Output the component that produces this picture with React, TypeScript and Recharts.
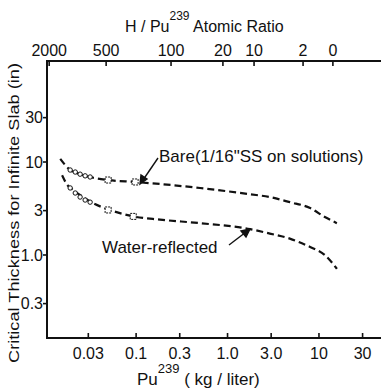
import React from 'react'
import { ComposedChart, Line, Scatter, XAxis, YAxis } from 'recharts'

// Pu239 concentration (kg/liter) vs critical slab thickness (in)
const bareConc = [0.0148, 0.019, 0.0244, 0.0314, 0.0494, 0.0975, 0.183, 0.5, 1.76, 2.9, 4.8, 8.0, 11.6, 15.7]
const bareThick = [10.8, 8.2, 7.4, 6.9, 6.4, 6.1, 5.8, 5.25, 4.5, 4.2, 3.7, 3.2, 2.56, 2.2]

const waterConc = [0.0155, 0.0176, 0.0205, 0.0263, 0.0339, 0.0494, 0.093, 0.183, 0.5, 1.76, 2.9, 4.8, 8.0, 11.6, 15.7]
const waterThick = [7.2, 5.7, 5.0, 4.2, 3.6, 3.1, 2.6, 2.4, 2.2, 1.9, 1.7, 1.5, 1.22, 1.0, 0.71]

// measured points drawn on the curves
const bareDotConc = [0.019, 0.0216, 0.0244, 0.0277, 0.0314]
const bareDotThick = [8.2, 7.8, 7.4, 7.1, 6.9]
const bareBoxConc = [0.0494, 0.0975]
const bareBoxThick = [6.4, 6.1]
const waterDotConc = [0.019, 0.0216, 0.0244, 0.0277, 0.0314]
const waterDotThick = [5.26, 4.64, 4.2, 3.9, 3.7]
const waterBoxConc = [0.0494, 0.093]
const waterBoxThick = [3.05, 2.6]

const xTicks = [0.03, 0.1, 0.3, 1, 3, 10, 30]
const xTickLabels = ['0.03', '0.1', '0.3', '1.0', '3.0', '10', '30']
const yTicks = [0.3, 1, 3, 10, 30]
const yTickLabels = ['0.3', '1.0', '3', '10', '30']
// H/Pu239 atomic ratio scale, placed at the matching concentration
const topTickConc = [0.0112, 0.047, 0.241, 0.89, 1.95, 6.7, 14.2]
const topTickLabels = ['2000', '500', '100', '20', '10', '2', '0']

const xDomain = [0.0106, 47.7]
const yDomain = [0.128, 122]

// plot box (matches the axis sizes / margins given to the chart below)
const W = 382
const H = 391
const left = 47
const top = 61
const bottomAxisH = 53
const right = W - 1
const bottom = H - bottomAxisH

const rows = (xs: number[], ys: number[]) => xs.map((c, i) => ({ c, t: ys[i] }))

// same log mapping the chart uses, for the frame and tick marks
const xPix = (v: number) => left + (right - left) * Math.log(v / xDomain[0]) / Math.log(xDomain[1] / xDomain[0])
const yPix = (v: number) => bottom - (bottom - top) * Math.log(v / yDomain[0]) / Math.log(yDomain[1] / yDomain[0])

const ink = '#111'
const font = '"Liberation Sans", Arial, sans-serif'

const Dot = (p: any) => <circle cx={p.cx} cy={p.cy} r={2.2} fill="white" stroke={ink} strokeWidth={1} />
const Box = (p: any) => (
  <rect x={p.cx - 3} y={p.cy - 3} width={6} height={6} fill="white" stroke={ink} strokeWidth={1} strokeDasharray="2 1" />
)

const lookup = (ticks: number[], labels: string[], v: number) => {
  const i = ticks.indexOf(v)
  return i >= 0 ? labels[i] : ''
}

const BottomTick = (p: any) => (
  <text x={p.x} y={p.y} dy="0.71em" textAnchor="middle" fontSize={16} fontFamily={font} fill={ink}>
    {lookup(xTicks, xTickLabels, p.payload.value)}
  </text>
)
const TopTick = (p: any) => (
  <text x={p.x} y={p.y} textAnchor="middle" fontSize={16} fontFamily={font} fill={ink}>
    {lookup(topTickConc, topTickLabels, p.payload.value)}
  </text>
)
const LeftTick = (p: any) => (
  <text x={p.x} y={p.y} dy="0.355em" textAnchor="end" fontSize={16} fontFamily={font} fill={ink}>
    {lookup(yTicks, yTickLabels, p.payload.value)}
  </text>
)

// frame as one filled outline (outer minus inner), drawn with L commands
const frameD = () => {
  const t = 1
  const outer = `M${left - t},${top - t} L${right},${top - t} L${right},${top + t} L${left + t},${top + t} ` +
    `L${left + t},${bottom - t} L${right},${bottom - t} L${right},${bottom + t} L${left - t},${bottom + t} Z`
  return outer
}

const App = () => {
  return (
    <div style={{ position: 'fixed', left: 0, top: 0, width: W, height: H, background: 'white' }}>
      <ComposedChart width={W} height={H} margin={{ top: 0, right: W - right, bottom: 0, left: 0 }}>
        <XAxis dataKey="c" type="number" scale="log" domain={xDomain} allowDataOverflow
          ticks={xTicks} interval={0} height={bottomAxisH} tickSize={4} tickMargin={6}
          tick={BottomTick} stroke={ink} strokeWidth={2} axisLine tickLine={false} />
        <XAxis xAxisId="top" orientation="top" dataKey="c" type="number" scale="log" domain={xDomain}
          allowDataOverflow ticks={topTickConc} interval={0} height={top} tickSize={3} tickMargin={2}
          tick={TopTick} stroke={ink} strokeWidth={2} axisLine tickLine={false} />
        <YAxis type="number" scale="log" domain={yDomain} allowDataOverflow ticks={yTicks} interval={0}
          width={left} tickSize={3} tickMargin={1} tick={LeftTick} stroke={ink} strokeWidth={2}
          axisLine tickLine={false} />
        <Line data={rows(bareConc, bareThick)} dataKey="t" type="monotone" stroke={ink} strokeWidth={2.2}
          strokeDasharray="7 4" dot={false} isAnimationActive={false} />
        <Line data={rows(waterConc, waterThick)} dataKey="t" type="monotone" stroke={ink} strokeWidth={2.2}
          strokeDasharray="7 4" dot={false} isAnimationActive={false} />
        <Scatter data={rows(bareDotConc, bareDotThick)} dataKey="t" shape={Dot} isAnimationActive={false} />
        <Scatter data={rows(bareBoxConc, bareBoxThick)} dataKey="t" shape={Box} isAnimationActive={false} />
        <Scatter data={rows(waterDotConc, waterDotThick)} dataKey="t" shape={Dot} isAnimationActive={false} />
        <Scatter data={rows(waterBoxConc, waterBoxThick)} dataKey="t" shape={Box} isAnimationActive={false} />
      </ComposedChart>
      <svg width={W} height={H} style={{ position: 'absolute', left: 0, top: 0, pointerEvents: 'none' }}
        fontFamily={font} fill={ink}>
        <path d={frameD()} fill={ink} stroke="none" />
        <g fill={ink} stroke="none">
          {xTicks.map((v) => <path key={'b' + v}
            d={`M${xPix(v) - 0.8},${bottom} L${xPix(v) + 0.8},${bottom} L${xPix(v) + 0.8},${bottom - 5} L${xPix(v) - 0.8},${bottom - 5} Z`} />)}
          {topTickConc.map((v) => <path key={'t' + v}
            d={`M${xPix(v) - 0.8},${top} L${xPix(v) + 0.8},${top} L${xPix(v) + 0.8},${top + 5} L${xPix(v) - 0.8},${top + 5} Z`} />)}
          {yTicks.map((v) => <path key={'l' + v}
            d={`M${left},${yPix(v) - 0.8} L${left},${yPix(v) + 0.8} L${left - 4},${yPix(v) + 0.8} L${left - 4},${yPix(v) - 0.8} Z`} />)}
        </g>
        <text x={125} y={32} fontSize={16}>
          H / Pu<tspan fontSize={12} dy={-12}>239</tspan><tspan dy={12}> Atomic Ratio</tspan>
        </text>
        <text x={137} y={385} fontSize={17}>
          Pu<tspan fontSize={13} dy={-12}>239</tspan><tspan dy={12}> ( kg / liter)</tspan>
        </text>
        <text transform="translate(19,213) rotate(-90)" textAnchor="middle" fontSize={15}
          textLength={300} lengthAdjust="spacingAndGlyphs">
          Critical Thickness for Infinite Slab (in)
        </text>
        <text x={159} y={162} fontSize={17}>Bare(1/16"SS on solutions)</text>
        <text x={102} y={253} fontSize={17}>Water-reflected</text>
        <g stroke={ink} strokeWidth={1.4} fill={ink}>
          <line x1={158} y1={158} x2={143} y2={180} />
          <path d="M140,184 L141,175 L147,179 Z" />
          <line x1={229} y1={245} x2={246} y2={232} />
          <path d="M250,229 L241,231 L246,237 Z" />
        </g>
      </svg>
    </div>
  )
}

export default App
